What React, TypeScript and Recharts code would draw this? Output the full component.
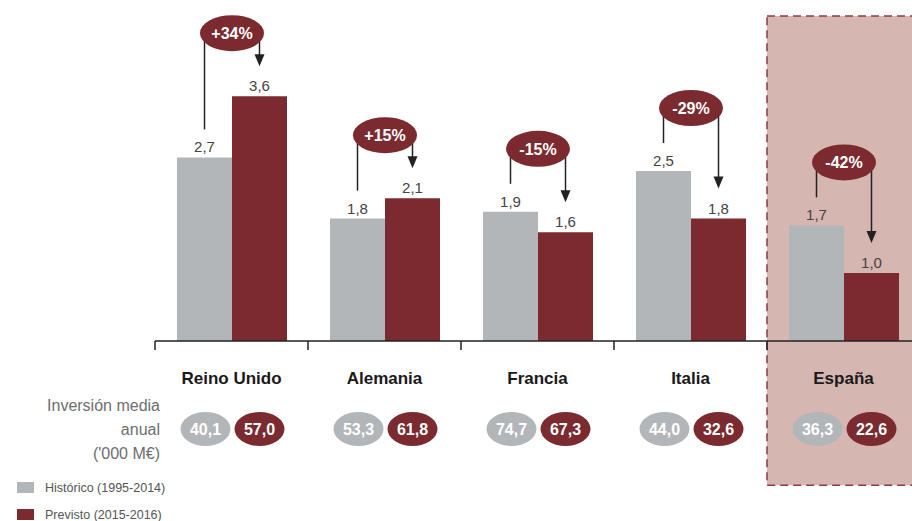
import React from "react";
import {
  Bar,
  BarChart,
  LabelList,
  Legend,
  ReferenceArea,
  XAxis,
  YAxis,
} from "recharts";

const countries = ["Reino Unido", "Alemania", "Francia", "Italia", "España"];
const historico = [2.7, 1.8, 1.9, 2.5, 1.7];
const previsto = [3.6, 2.1, 1.6, 1.8, 1.0];
const changes = ["+34%", "+15%", "-15%", "-29%", "-42%"];
const inversionHist = [40.1, 53.3, 74.7, 44.0, 36.3];
const inversionPrev = [57.0, 61.8, 67.3, 32.6, 22.6];

const data = countries.map((name, i) => ({
  name,
  hist: historico[i],
  prev: previsto[i],
}));

const GRAY = "#b3b6b9";
const RED = "#7b2a30";
const NARROW = "'Liberation Sans Narrow', 'Liberation Sans', Arial, sans-serif";
const fmt = (v: number) => v.toFixed(1).replace(".", ",");

function ChangeLabel(props: any) {
  const { x, y, width, height, index } = props;
  const base = y + height;
  const unit = height / previsto[index];
  const grayTop = base - historico[index] * unit;
  const redTop = y;
  const redX = x + width / 2;
  const grayX = x - width / 2;
  const cy = Math.min(grayTop, redTop) - 63;
  const tip = redTop - 30;
  return (
    <g>
      <line x1={grayX} y1={cy + 8} x2={grayX} y2={grayTop - 28} stroke="#222" strokeWidth={1.5} />
      <line x1={redX} y1={cy + 8} x2={redX} y2={tip - 10} stroke="#222" strokeWidth={1.5} />
      <polygon points={`${redX - 5},${tip - 12} ${redX + 5},${tip - 12} ${redX},${tip}`} fill="#222" />
      <ellipse cx={x} cy={cy} rx={32} ry={18} fill={RED} />
      <text x={x} y={cy + 6} textAnchor="middle" fill="#fff" fontFamily={NARROW} fontWeight="bold" fontSize={16}>
        {changes[index]}
      </text>
    </g>
  );
}

function CountryTick(props: any) {
  const { x, y, payload, index } = props;
  const half = 76.5;
  return (
    <g>
      <line x1={x - half} y1={y} x2={x - half} y2={y + 9} stroke="#222" strokeWidth={1.5} />
      <text x={x} y={y + 43} textAnchor="middle" fill="#1a1a1a" fontFamily={NARROW} fontWeight="bold" fontSize={17}>
        {payload.value}
      </text>
      <ellipse cx={x - 26} cy={y + 88} rx={25} ry={17} fill={GRAY} />
      <text x={x - 26} y={y + 94} textAnchor="middle" fill="#fff" fontFamily={NARROW} fontWeight="bold" fontSize={16}>
        {fmt(inversionHist[index])}
      </text>
      <ellipse cx={x + 28} cy={y + 88} rx={25} ry={17} fill={RED} />
      <text x={x + 28} y={y + 94} textAnchor="middle" fill="#fff" fontFamily={NARROW} fontWeight="bold" fontSize={16}>
        {fmt(inversionPrev[index])}
      </text>
    </g>
  );
}

function LegendBox(props: any) {
  const { payload } = props;
  return (
    <div style={{ fontFamily: NARROW, fontSize: 12.5, color: "#555" }}>
      {payload.map((p: any) => (
        <div key={p.value} style={{ display: "flex", alignItems: "center", height: 27 }}>
          <span style={{ width: 17, height: 11, background: p.color, marginRight: 11 }} />
          {p.value}
        </div>
      ))}
    </div>
  );
}

export default function App() {
  return (
    <div style={{ position: "absolute", left: 0, top: 0, width: 912, height: 521, overflow: "hidden", background: "#fff" }}>
      <div
        style={{
          position: "absolute",
          left: 0,
          top: 394,
          width: 160,
          textAlign: "right",
          fontFamily: "'Liberation Sans', Arial, sans-serif",
          fontSize: 16,
          lineHeight: "24px",
          color: "#6e6e6e",
        }}
      >
        Inversión media
        <br />
        anual
        <br />
        ('000 M€)
      </div>
      <BarChart
        width={920}
        height={521}
        data={data}
        margin={{ top: 1, right: 0, left: 155, bottom: 0 }}
        barGap={0}
        barCategoryGap={22}
      >
        <ReferenceArea
          x1="España"
          x2="España"
          y1={-2.12}
          y2={4.78}
          ifOverflow="visible"
          fill="#d5b6b1"
          fillOpacity={1}
          stroke="#8c3b42"
          strokeWidth={1.5}
          strokeDasharray="8 5"
        />
        <YAxis hide domain={[0, 5]} />
        <XAxis
          dataKey="name"
          height={180}
          interval={0}
          tickSize={0}
          tickMargin={0}
          tickLine={false}
          axisLine={{ stroke: "#222", strokeWidth: 1.5 }}
          tick={<CountryTick />}
        />
        <Legend
          layout="horizontal"
          verticalAlign="middle"
          align="center"
          wrapperStyle={{ left: 17, top: 474, width: 200 }}
          content={<LegendBox />}
        />
        <Bar dataKey="hist" name="Histórico (1995-2014)" fill={GRAY} isAnimationActive={false}>
          <LabelList dataKey="hist" position="top" offset={5} formatter={(v: any) => fmt(Number(v))} fill="#444" fontSize={15} fontFamily={NARROW} />
        </Bar>
        <Bar dataKey="prev" name="Previsto (2015-2016)" fill={RED} isAnimationActive={false}>
          <LabelList dataKey="prev" position="top" offset={5} formatter={(v: any) => fmt(Number(v))} fill="#444" fontSize={15} fontFamily={NARROW} />
          <LabelList dataKey="prev" content={<ChangeLabel />} />
        </Bar>
      </BarChart>
    </div>
  );
}
